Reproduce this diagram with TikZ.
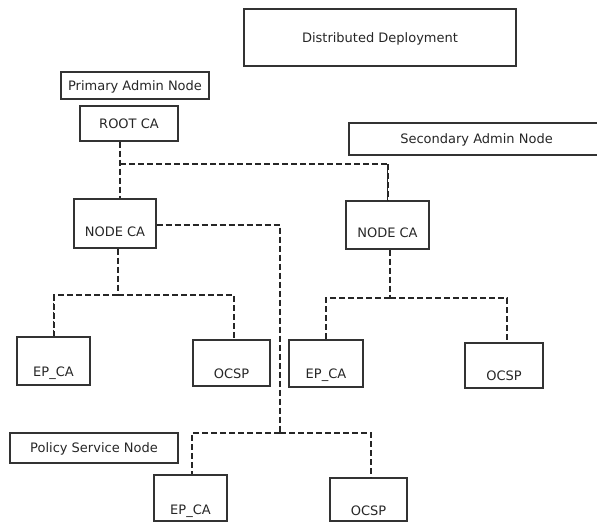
\documentclass[tikz,border=0pt]{standalone}
\usepackage{fontspec}
\setmainfont{DejaVu Sans}
\tikzset{
  box/.style={draw=black!80, line width=1.2pt, inner sep=0pt, text=black!85,
    font=\fontsize{13}{15}\selectfont, text height=9.5pt, text depth=0pt},
  lowbox/.style={box, text height=30pt},
  link/.style={draw=black!85, line width=2pt, dash pattern=on 6pt off 3pt},
  thinlink/.style={draw=black!85, line width=1.2pt, dash pattern=on 6pt off 3pt}
}
\begin{document}
\begin{tikzpicture}[x=1pt, y=-1pt]
    \useasboundingbox (0,0) rectangle (597,522);
    \node[box, minimum width=272pt, minimum height=57pt] (dist) at (380,37.5) {Distributed Deployment};
    \node[box, minimum width=148pt, minimum height=27pt] (primary) at (135,85.5) {Primary Admin Node};
    \node[box, minimum width=98pt, minimum height=35pt] (root) at (129,123.5) {ROOT CA};
    \node[box, minimum width=255pt, minimum height=32pt] (secondary) at (476.5,139) {Secondary Admin Node};
    \node[lowbox, text height=26pt, minimum width=82pt, minimum height=49pt] (nodeA) at (115,223.5) {NODE CA};
    \node[lowbox, text height=24pt, minimum width=83pt, minimum height=48pt] (nodeB) at (387.5,225) {NODE CA};
    \node[lowbox, minimum width=73pt, minimum height=48pt] (epA) at (53.5,361) {EP\_CA};
    \node[lowbox, minimum width=77pt, minimum height=46pt] (ocspA) at (231.5,363) {OCSP};
    \node[lowbox, minimum width=74pt, minimum height=47pt] (epB) at (326,363.5) {EP\_CA};
    \node[lowbox, minimum width=78pt, minimum height=45pt] (ocspB) at (504,365.5) {OCSP};
    \node[box, minimum width=168pt, minimum height=30pt] (policy) at (94,448) {Policy Service Node};
    \node[lowbox, text height=33pt, minimum width=73pt, minimum height=46pt] (epC) at (190.5,498) {EP\_CA};
    \node[lowbox, text height=31pt, minimum width=77pt, minimum height=43pt] (ocspC) at (368.5,499.5) {OCSP};
    \coordinate (rootsplit) at (120,164);
    \coordinate (asplit) at (118,295);
    \coordinate (bsplit) at (390,298);
    \coordinate (psnsplit) at (280,433);
    \draw[link] ([xshift=-9pt]root.south) -- ([xshift=5pt]nodeA.north);
    \draw[thinlink] (rootsplit) -| (nodeB.north);
    \draw[link] (nodeB.north |- rootsplit) -- (nodeB.north);
    \draw[link] ([yshift=-1.5pt]nodeA.east) -| (psnsplit);
    \draw[link] (psnsplit) -| ([xshift=1.5pt]epC.north);
    \draw[link] (psnsplit) -| ([xshift=2.5pt]ocspC.north);
    \draw[link] ([xshift=3pt]nodeA.south) -- (asplit);
    \draw[thinlink] (asplit) -| (epA.north);
    \draw[link] (epA.north |- asplit) -- (epA.north);
    \draw[thinlink] (asplit) -| ([xshift=2.5pt]ocspA.north);
    \draw[link] ([xshift=2.5pt]nodeB.south) -- (bsplit);
    \draw[link] (bsplit) -| (epB.north);
    \draw[thinlink] (bsplit) -| ([xshift=3pt]ocspB.north);
\end{tikzpicture}
\end{document}
